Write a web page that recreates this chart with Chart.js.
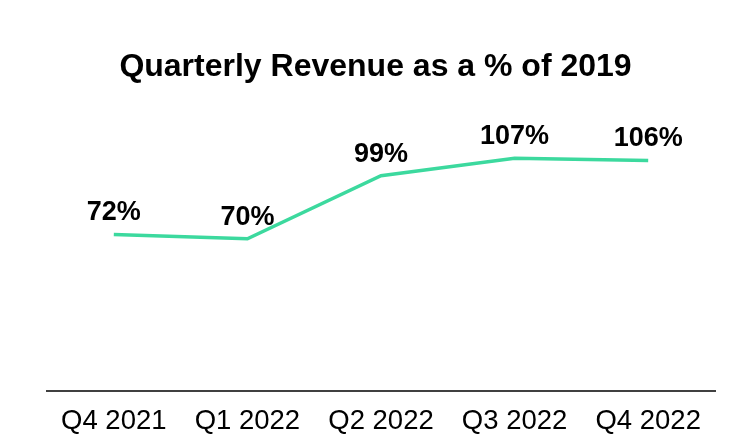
<!DOCTYPE html>
<html>
<head>
<meta charset="utf-8">
<script src="https://cdn.jsdelivr.net/npm/chart.js@4"></script>
<style>
html,body{margin:0;padding:0;background:#fff;}
#wrap{width:738px;height:442px;}
</style>
</head>
<body>
<div id="wrap"><canvas id="c"></canvas></div>
<script>
const categories = ["Q4 2021", "Q1 2022", "Q2 2022", "Q3 2022", "Q4 2022"];
const revenuePct = [72, 70, 99, 107, 106];
const titleText = "Quarterly Revenue as a % of 2019";

const labelPlugin = {
  id: 'pointLabels',
  afterDatasetsDraw(chart) {
    const ctx = chart.ctx;
    const meta = chart.getDatasetMeta(0);
    ctx.save();
    ctx.fillStyle = '#000';
    ctx.textAlign = 'center';
    ctx.textBaseline = 'alphabetic';
    ctx.font = 'bold 32px "Liberation Sans", Arial, sans-serif';
    ctx.fillText(titleText, 375.5, 75.5);
    ctx.font = 'bold 27px "Liberation Sans", Arial, sans-serif';
    meta.data.forEach((pt, i) => {
      ctx.fillText(revenuePct[i] + '%', pt.x, pt.y - 14);
    });
    ctx.restore();
  }
};

new Chart(document.getElementById('c'), {
  type: 'line',
  data: {
    labels: categories,
    datasets: [{
      data: revenuePct,
      borderColor: '#3cd99e',
      borderWidth: 3.5,
      pointRadius: 0,
      tension: 0,
      fill: false
    }]
  },
  options: {
    responsive: true,
    maintainAspectRatio: false,
    animation: false,
    layout: { padding: { left: 47, right: 23, top: 130, bottom: 0 } },
    plugins: {
      legend: { display: false },
      tooltip: { enabled: false },
      title: { display: false }
    },
    scales: {
      x: {
        offset: true,
        grid: { display: false, drawTicks: false },
        border: { display: true, color: '#404040', width: 2 },
        ticks: {
          color: '#000',
          padding: 14,
          font: { family: '"Liberation Sans", Arial, sans-serif', size: 27.5 }
        },
        afterFit(scale) { scale.height = 51; }
      },
      y: {
        display: false,
        min: 0,
        max: 120
      }
    }
  },
  plugins: [labelPlugin]
});
</script>
</body>
</html>
